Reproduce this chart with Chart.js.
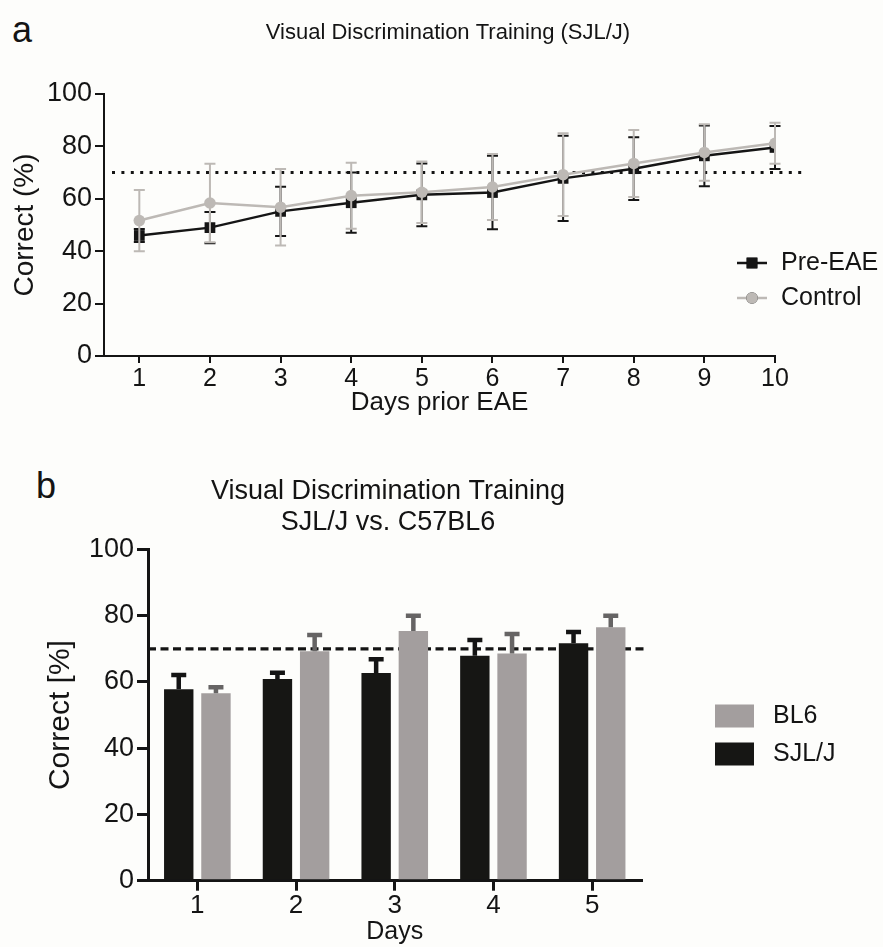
<!DOCTYPE html>
<html>
<head>
<meta charset="utf-8">
<script src="https://cdn.jsdelivr.net/npm/chart.js@4.4.1/dist/chart.umd.min.js"></script>
<style>
  html, body { margin: 0; padding: 0; background: #fdfdfb; }
  body { width: 883px; height: 947px; position: relative; overflow: hidden;
         font-family: "Liberation Sans", Arial, Helvetica, sans-serif; color: #141414; }
  canvas { position: absolute; left: 0; }
  #chartA { top: 0; }
  #chartB { top: 440px; }
  .letter { position: absolute; font-size: 36px; line-height: 1; color: #141414; }
</style>
</head>
<body>
<div class="letter" style="left:12px; top:12px;">a</div>
<div class="letter" style="left:36px; top:468px;">b</div>
<canvas id="chartA" width="883" height="435"></canvas>
<canvas id="chartB" width="883" height="507"></canvas>
<script>
// ---- Panel a: visual discrimination training, SJL/J ----
const trainingDays = [1, 2, 3, 4, 5, 6, 7, 8, 9, 10];
const preEaeMean   = [46.0, 49.0, 55.2, 58.5, 61.5, 62.4, 67.8, 71.5, 76.4, 79.6];
const preEaeErr    = [2.5, 6.0, 9.4, 11.5, 12.0, 14.0, 16.3, 12.0, 11.6, 8.2];
const controlMean  = [51.7, 58.4, 56.8, 61.2, 62.5, 64.5, 69.2, 73.5, 77.7, 81.2];
const controlErr   = [11.7, 15.0, 14.6, 12.6, 11.7, 12.6, 15.8, 12.8, 10.8, 7.8];

// ---- Panel b: SJL/J vs. C57BL6 ----
const strainDays = ['1', '2', '3', '4', '5'];
const sjlMean = [57.8, 60.9, 62.7, 67.9, 71.7];
const sjlErr  = [4.3, 1.9, 4.2, 4.8, 3.4];
const bl6Mean = [56.6, 69.3, 75.4, 68.6, 76.5];
const bl6Err  = [1.8, 4.9, 4.6, 5.9, 3.5];

// shared y axis and learning criterion
const percentMin = 0, percentMax = 100, percentStep = 20;
const criterionLevel = 70;

const FONT = '"Liberation Sans", Arial, Helvetica, sans-serif';
const INK = '#141414';
Chart.defaults.font.family = FONT;
Chart.defaults.color = INK;
Chart.defaults.animation = false;

// symmetric error bars under each line dataset
const lineErrorBars = {
  id: 'lineErrorBars',
  beforeDatasetDraw(chart, args, o) {
    const ds = chart.data.datasets[args.index];
    if (!ds.errors) return;
    const y = chart.scales.y, ctx = chart.ctx;
    ctx.save();
    ctx.strokeStyle = ds.borderColor;
    ctx.lineWidth = o.width;
    args.meta.data.forEach((pt, i) => {
      const v = ds.data[i].y, e = ds.errors[i];
      const yt = y.getPixelForValue(v + e), yb = y.getPixelForValue(v - e);
      ctx.beginPath();
      ctx.moveTo(pt.x, yt); ctx.lineTo(pt.x, yb);
      ctx.moveTo(pt.x - o.cap, yt); ctx.lineTo(pt.x + o.cap, yt);
      ctx.moveTo(pt.x - o.cap, yb); ctx.lineTo(pt.x + o.cap, yb);
      ctx.stroke();
    });
    ctx.restore();
  }
};

// upper-only error bars on top of each bar
const barErrorBars = {
  id: 'barErrorBars',
  afterDatasetsDraw(chart, args, o) {
    const y = chart.scales.y, ctx = chart.ctx;
    chart.data.datasets.forEach((ds, di) => {
      const meta = chart.getDatasetMeta(di);
      ctx.save();
      ctx.strokeStyle = ds.errorColor;
      ctx.lineWidth = o.width;
      meta.data.forEach((bar, i) => {
        const yt = y.getPixelForValue(ds.data[i] + ds.errors[i]);
        ctx.beginPath();
        ctx.moveTo(bar.x, bar.y); ctx.lineTo(bar.x, yt);
        ctx.moveTo(bar.x - o.cap, yt); ctx.lineTo(bar.x + o.cap, yt);
        ctx.stroke();
      });
      ctx.restore();
    });
  }
};

// horizontal reference line at the learning criterion
const criterionLine = {
  id: 'criterionLine',
  beforeDatasetsDraw(chart, args, o) {
    const { ctx, chartArea, scales } = chart;
    const y = scales.y.getPixelForValue(o.value);
    ctx.save();
    ctx.strokeStyle = o.color;
    ctx.lineWidth = o.width;
    ctx.setLineDash(o.dash);
    ctx.beginPath();
    ctx.moveTo(chartArea.left + o.startInset, y);
    ctx.lineTo(chartArea.right + o.endOverhang, y);
    ctx.stroke();
    ctx.restore();
  }
};

// centred heading lines
const headings = {
  id: 'headings',
  afterDraw(chart, args, o) {
    const ctx = chart.ctx;
    ctx.save();
    ctx.fillStyle = INK;
    ctx.textAlign = 'center';
    ctx.textBaseline = 'middle';
    ctx.font = o.size + 'px ' + FONT;
    o.lines.forEach((t, i) => ctx.fillText(t, o.x, o.y + i * o.gap));
    ctx.restore();
  }
};

// key for the line panel: line segment with the series marker
const lineKey = {
  id: 'lineKey',
  afterDraw(chart, args, o) {
    const ctx = chart.ctx;
    ctx.save();
    ctx.font = o.size + 'px ' + FONT;
    ctx.textBaseline = 'middle';
    ctx.textAlign = 'left';
    o.order.forEach((di, row) => {
      const ds = chart.data.datasets[di];
      const y = o.y + row * o.gap;
      ctx.strokeStyle = ds.borderColor;
      ctx.lineWidth = ds.borderWidth;
      ctx.beginPath();
      ctx.moveTo(o.x, y); ctx.lineTo(o.x + o.len, y);
      ctx.stroke();
      Chart.helpers.drawPoint(ctx, { pointStyle: ds.pointStyle, radius: ds.pointRadius, borderWidth: 0 },
                              o.x + o.len / 2, y);
      ctx.fillStyle = ds.backgroundColor;
      ctx.fill();
      ctx.fillStyle = INK;
      ctx.fillText(ds.label, o.x + o.len + o.textGap, y);
    });
    ctx.restore();
  }
};

// key for the bar panel: filled swatches
const barKey = {
  id: 'barKey',
  afterDraw(chart, args, o) {
    const ctx = chart.ctx;
    ctx.save();
    ctx.font = o.size + 'px ' + FONT;
    ctx.textBaseline = 'middle';
    ctx.textAlign = 'left';
    o.order.forEach((di, row) => {
      const ds = chart.data.datasets[di];
      const y = o.y + row * o.gap;
      ctx.fillStyle = ds.backgroundColor;
      ctx.fillRect(o.x, y - o.h / 2, o.w, o.h);
      ctx.fillStyle = INK;
      ctx.fillText(ds.label, o.x + o.w + o.textGap, y);
    });
    ctx.restore();
  }
};

function axisStyle(lineWidth, tickLength, extra) {
  return {
    grid: Object.assign({ display: true, drawOnChartArea: false, drawTicks: true, tickLength: tickLength,
            color: INK, lineWidth: lineWidth }, extra || {}),
    border: { display: true, color: INK, width: lineWidth }
  };
}

// ---- chart a ----
new Chart(document.getElementById('chartA'), {
  type: 'line',
  data: {
    datasets: [
      {
        label: 'Pre-EAE',
        data: trainingDays.map((d, i) => ({ x: d, y: preEaeMean[i] })),
        errors: preEaeErr,
        borderColor: '#151515', backgroundColor: '#151515',
        borderWidth: 2.5, pointStyle: 'rect', pointRadius: 7.6, pointBorderWidth: 0,
        tension: 0, order: 2
      },
      {
        label: 'Control',
        data: trainingDays.map((d, i) => ({ x: d, y: controlMean[i] })),
        errors: controlErr,
        borderColor: '#bdb9b5', backgroundColor: '#bdb9b5',
        borderWidth: 2.5, pointStyle: 'circle', pointRadius: 5.8, pointBorderWidth: 0,
        tension: 0, order: 1
      }
    ]
  },
  options: {
    responsive: false,
    animation: false,
    layout: { padding: { left: 0, top: 94, right: 108, bottom: 16 } },
    plugins: {
      legend: { display: false },
      tooltip: { enabled: false },
      lineErrorBars: { width: 2, cap: 5.5 },
      criterionLine: { value: criterionLevel, color: INK, width: 3, dash: [3, 6.4], startInset: 8, endOverhang: 31 },
      headings: { lines: ['Visual Discrimination Training (SJL/J)'], x: 448, y: 33, size: 22, gap: 0 },
      lineKey: { order: [0, 1], x: 737, y: 263, gap: 35, len: 30, textGap: 14, size: 25 }
    },
    scales: {
      x: {
        type: 'linear', min: 0.5, max: trainingDays[trainingDays.length - 1],
        afterBuildTicks(s) { s.ticks = trainingDays.map(v => ({ value: v })); },
        ticks: { font: { size: 25 }, padding: 1, color: INK, maxRotation: 0, autoSkip: false },
        title: { display: true, text: 'Days prior EAE', font: { size: 26 }, color: INK, padding: { top: 0, bottom: 0.5 } },
        afterFit(s) { s.height = 63; },
        ...axisStyle(2, 7)
      },
      y: {
        min: percentMin, max: percentMax,
        ticks: { stepSize: percentStep, font: { size: 27 }, padding: 3, color: INK },
        title: { display: true, text: 'Correct (%)', font: { size: 28 }, color: INK, padding: { top: 8, bottom: 0 } },
        afterFit(s) { s.width = 104; },
        ...axisStyle(2, 9)
      }
    }
  },
  plugins: [lineErrorBars, criterionLine, headings, lineKey]
});

// ---- chart b ----
new Chart(document.getElementById('chartB'), {
  type: 'bar',
  data: {
    labels: strainDays,
    datasets: [
      {
        label: 'SJL/J', data: sjlMean, errors: sjlErr, errorColor: '#141414',
        backgroundColor: '#161614', borderWidth: 0,
        categoryPercentage: 0.754, barPercentage: 0.79
      },
      {
        label: 'BL6', data: bl6Mean, errors: bl6Err, errorColor: '#666464',
        backgroundColor: '#a39e9e', borderWidth: 0,
        categoryPercentage: 0.754, barPercentage: 0.79
      }
    ]
  },
  options: {
    responsive: false,
    animation: false,
    layout: { padding: { left: 0, top: 109.5, right: 241.5, bottom: 0.3 } },
    plugins: {
      legend: { display: false },
      tooltip: { enabled: false },
      barErrorBars: { width: 4.5, cap: 7.5 },
      criterionLine: { value: criterionLevel, color: INK, width: 3.3, dash: [8, 4.5], startInset: 0, endOverhang: 2 },
      headings: { lines: ['Visual Discrimination Training', 'SJL/J vs. C57BL6'], x: 388, y: 52, size: 27, gap: 31 },
      barKey: { order: [1, 0], x: 715, y: 276, gap: 38, w: 39, h: 23, textGap: 19, size: 25 }
    },
    scales: {
      x: {
        ticks: { font: { size: 26 }, padding: 0, color: INK },
        title: { display: true, text: 'Days', font: { size: 25 }, color: INK, padding: { top: 0, bottom: 0 } },
        afterFit(s) { s.height = 66; },
        ...axisStyle(3, 10, { offset: false })
      },
      y: {
        min: percentMin, max: percentMax,
        ticks: { stepSize: percentStep, font: { size: 27 }, padding: 3, color: INK },
        title: { display: true, text: 'Correct [%]', font: { size: 30 }, color: INK, padding: { top: 43, bottom: 0 } },
        afterFit(s) { s.width = 148; },
        ...axisStyle(3, 11)
      }
    }
  },
  plugins: [criterionLine, barErrorBars, headings, barKey]
});
</script>
</body>
</html>
